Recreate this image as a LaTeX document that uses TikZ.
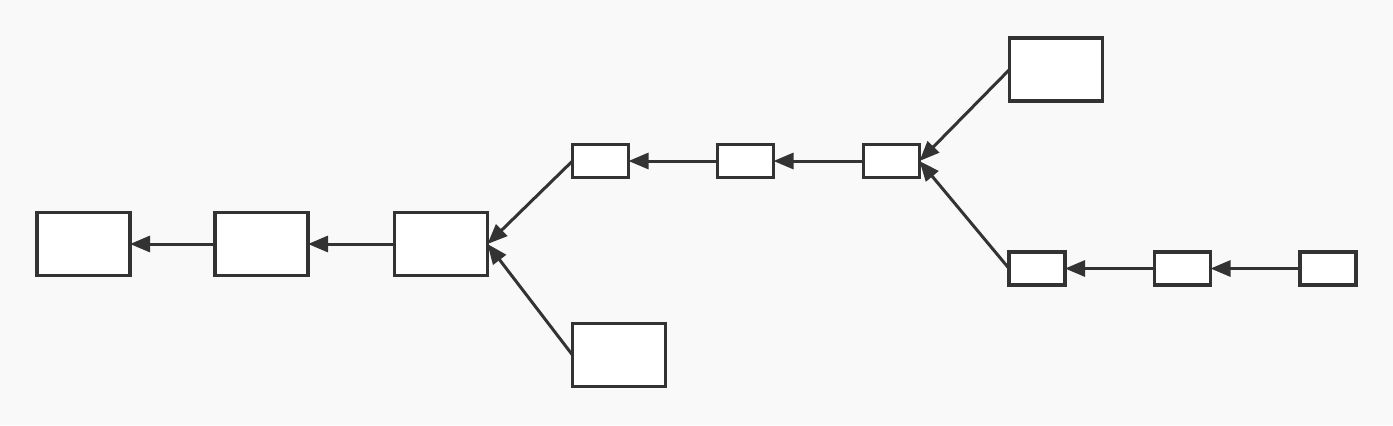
\documentclass[tikz,border=0pt]{standalone}
\usepackage{tikz}
\usetikzlibrary{positioning, arrows.meta}
\usepackage{xcolor}
\definecolor{bg}{HTML}{F9F9F9}
\definecolor{ink}{HTML}{333333}

\begin{document}
\begin{tikzpicture}[x=1pt, y=1pt,
		box/.style={draw=ink, fill=white, line width=1.75pt, inner sep=0pt, outer sep=0pt},
		bigbox/.style={box, minimum width=46.5pt, minimum height=31.5pt},
		smallbox/.style={box, minimum width=28pt, minimum height=16.5pt},
		link/.style={draw=ink, line width=1.5pt, -{Triangle[length=10pt, width=8pt]}}]
		\fill[bg] (0,0) rectangle (696.5,-212.5);
		\useasboundingbox (0,0) rectangle (696.5,-212.5);
		
		\node[bigbox] (a) at (41.75,-122) {};
		\node[bigbox, right=42.5pt of a] (b) {};
		\node[bigbox, right=43.25pt of b] (c) {};
		\node[smallbox, above right=17.5pt and 42.5pt of c] (d) {};
		\node[bigbox, below right=24pt and 42.5pt of c] (k) {};
		\node[smallbox, right=44.5pt of d] (e) {};
		\node[smallbox, right=45pt of e] (f) {};
		\node[bigbox, above right=21.75pt and 45pt of f] (g) {};
		\node[smallbox, below right=37.25pt and 44.75pt of f] (h) {};
		\node[smallbox, right=44.75pt of h] (i) {};
		\node[smallbox, right=44.75pt of i] (j) {};
		
		\draw[link] (b.west) -- (a.east);
		\draw[link] (c.west) -- (b.east);
		\draw[link] (d.west) -- (c.east);
		\draw[link] (k.west) -- (c.east);
		\draw[link] (e.west) -- (d.east);
		\draw[link] (f.west) -- (e.east);
		\draw[link] (g.west) -- (f.east);
		\draw[link] (h.west) -- (f.east);
		\draw[link] (i.west) -- (h.east);
		\draw[link] (j.west) -- (i.east);
	\end{tikzpicture}
\end{document}
